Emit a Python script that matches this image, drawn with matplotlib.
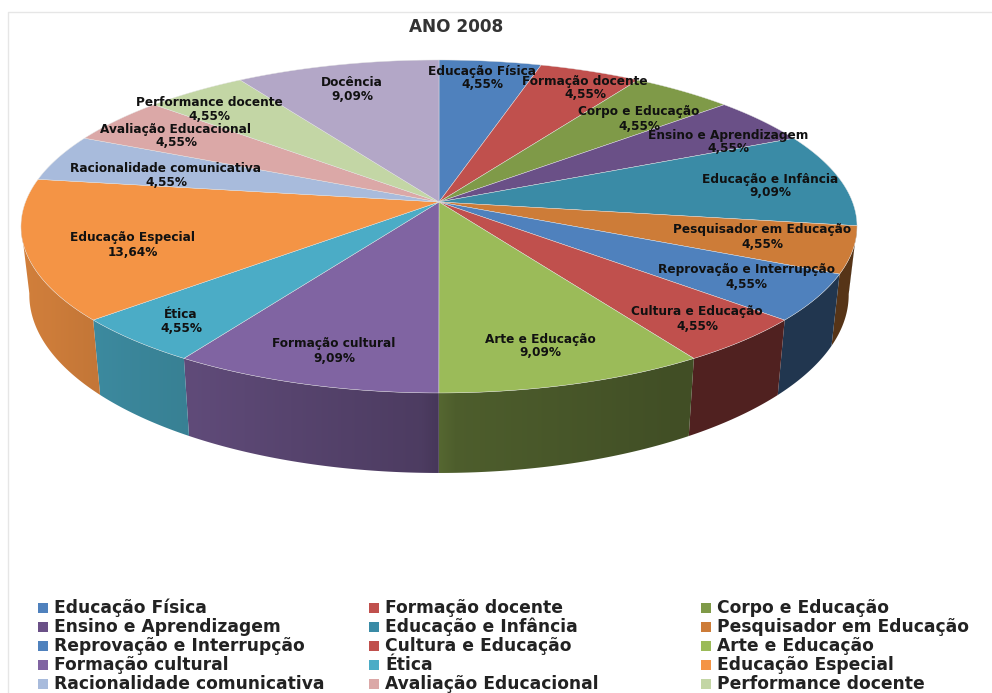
import numpy as np
import matplotlib
matplotlib.use("Agg")
import matplotlib.pyplot as plt
from matplotlib.patches import Polygon

# Dados
categorias = ["Educação Física", "Formação docente", "Corpo e Educação",
              "Ensino e Aprendizagem", "Educação e Infância", "Pesquisador em Educação",
              "Reprovação e Interrupção", "Cultura e Educação", "Arte e Educação",
              "Formação cultural", "Ética", "Educação Especial",
              "Racionalidade comunicativa", "Avaliação Educacional",
              "Performance docente", "Docência"]
valores = [4.55, 4.55, 4.55, 4.55, 9.09, 4.55, 4.55, 4.55, 9.09, 9.09, 4.55, 13.64,
           4.55, 4.55, 4.55, 9.09]

# Cores
cores = ["#4f81bd", "#c0504d", "#7f9a48", "#6a5087", "#3a8ba6", "#cd7c38",
         "#4f81bd", "#c0504d", "#9bbb59", "#8064a2", "#4bacc6", "#f49445",
         "#a8bbdc", "#dba8a7", "#c3d6a5", "#b3a7c7"]

# Posicao dos rotulos (pixels)
pos_x = [482, 585, 639, 728, 770, 762, 746, 697, 540, 334, 181, 133, 166, 176, 209, 352]
pos_y = [78, 88, 119, 142, 186, 237, 277, 319, 346, 351, 322, 245, 175, 136, 109, 89]

# Geometria da pizza (perspectiva)
cx, cy = 439, 202
R, H, k = 413.5, 162.9, -0.147


def topo(t):
    d = 1 - k * np.cos(t)
    return cx + R * np.sin(t) / d, cy - H * np.cos(t) / d


def base(t):
    x, y = topo(t)
    return cx + (x - cx) * 0.98, 473 + (y - 393) * 1.07


def sombra(t):
    return np.interp(np.degrees(t), [90, 150, 178, 182, 210, 240, 270],
                     [0.42, 0.42, 0.50, 0.60, 0.74, 0.84, 0.88])


fig = plt.figure(figsize=(9.92, 6.93), dpi=100)
ax = fig.add_axes([0, 0, 1, 1])
ax.axis("off")

# Moldura
ax.plot([8, 8, 992], [693, 12, 12], color="#e6e6e6", lw=1)

fim = np.cumsum(valores) / np.sum(valores) * 2 * np.pi
ini = np.r_[0, fim[:-1]]
t_min, t_max = np.radians(98), np.radians(262)

# Lateral: gradiente na horizontal recortado pela forma de cada fatia
for a, b, cor in zip(ini, fim, cores):
    a2, b2 = max(a, t_min), min(b, t_max)
    if a2 >= b2:
        continue
    tt = np.linspace(a2, b2, 60)
    xa, ya = topo(tt)
    xb, yb = base(tt[::-1])
    px = np.r_[xa, xb]
    py = np.r_[ya, yb]
    colunas = np.arange(np.floor(px.min()), np.ceil(px.max()) + 1)
    ordem = np.argsort(xa)
    t_col = np.interp(colunas, xa[ordem], tt[ordem])
    img = np.array(matplotlib.colors.to_rgb(cor))[None, None, :] * sombra(t_col)[None, :, None]
    im = ax.imshow(img, extent=[colunas[0], colunas[-1], py.max() + 1, py.min() - 1],
                   aspect="auto", interpolation="bilinear", zorder=2)
    forma = Polygon(np.c_[px, py], closed=True, transform=ax.transData)
    im.set_clip_path(forma)

ax.set_xlim(0, 992)
ax.set_ylim(693, 0)

# Fatias
for a, b, cor in zip(ini, fim, cores):
    tt = np.linspace(a, b, 60)
    x, y = topo(tt)
    ax.fill(np.r_[cx, x], np.r_[cy, y], facecolor=cor, edgecolor="#e4e4e4", lw=0.3, zorder=3)

# Rotulos
for nome, v, x, y in zip(categorias, valores, pos_x, pos_y):
    txt = f"{nome}\n{v:.2f}%".replace(".", ",")
    ax.text(x, y, txt, ha="center", va="center", fontsize=8.7, fontweight="bold",
            color="#111111", linespacing=1.1, zorder=5)

ax.text(456, 27, "ANO 2008", ha="center", va="center", fontsize=12.2, fontweight="bold",
        color="#333333")

# Legenda (a ultima categoria nao aparece no original)
col_x = [38, 369, 701]
for i, (nome, cor) in enumerate(zip(categorias[:15], cores[:15])):
    x = col_x[i % 3]
    y = 608 + 19 * (i // 3)
    ax.scatter([x + 5], [y], marker="s", s=42, color=cor, lw=0)
    ax.text(x + 16, y, nome, ha="left", va="center", fontsize=12.3, fontweight="bold",
            color="#222222")

fig.savefig("out.png", dpi=100)
